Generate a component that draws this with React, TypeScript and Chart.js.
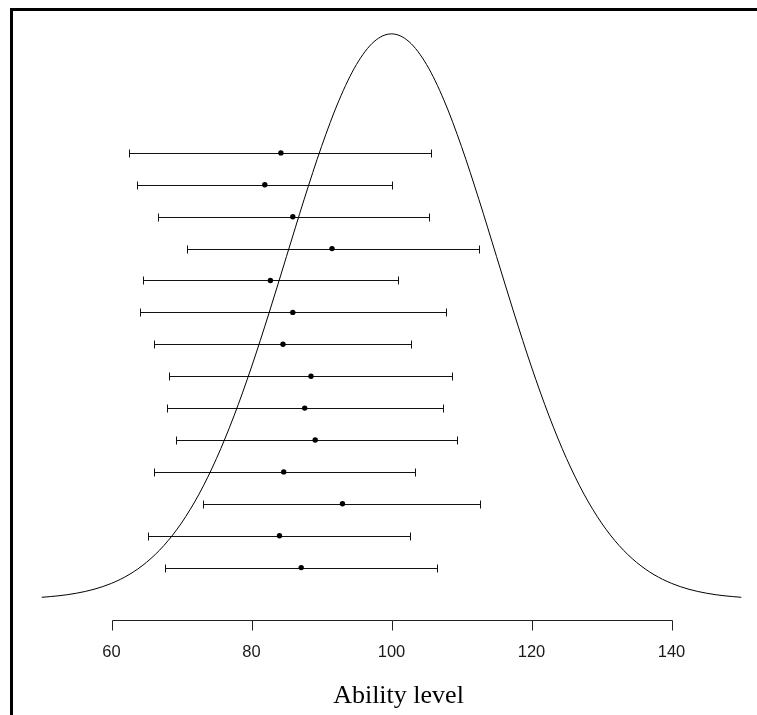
import React, { useEffect, useRef } from "react";
import { Chart, registerables } from "chart.js";

Chart.register(...registerables);

// Normal density curve (mean 100, sd 15)
const curveX = [
  50, 52.5, 55, 57.5, 60, 62.5, 65, 67.5, 70, 72.5, 75, 77.5, 80, 82.5, 85, 87.5, 90, 92.5, 95, 97.5,
  100, 102.5, 105, 107.5, 110, 112.5, 115, 117.5, 120, 122.5, 125, 127.5, 130, 132.5, 135, 137.5, 140,
  142.5, 145, 147.5, 150,
];
const curveY = [
  0.0001028, 0.0001768, 0.0002955, 0.0004804, 0.0007597, 0.0011685, 0.0017481, 0.0025433, 0.0035994,
  0.0049537, 0.0066317, 0.0086344, 0.0109339, 0.0134665, 0.0161313, 0.018794, 0.0212964, 0.0234709,
  0.0251587, 0.0262292, 0.026596, 0.0262292, 0.0251587, 0.0234709, 0.0212964, 0.018794, 0.0161313,
  0.0134665, 0.0109339, 0.0086344, 0.0066317, 0.0049537, 0.0035994, 0.0025433, 0.0017481, 0.0011685,
  0.0007597, 0.0004804, 0.0002955, 0.0001768, 0.0001028,
];

// Interval rows (top to bottom)
const rowY = [0.021, 0.0195, 0.018, 0.0165, 0.015, 0.0135, 0.012, 0.0105, 0.009, 0.0075, 0.006, 0.0045, 0.003, 0.0015];
const estimates = [84.2, 81.9, 85.9, 91.5, 82.7, 85.9, 84.5, 88.5, 87.6, 89.1, 84.6, 93.0, 84.0, 87.1];
const lowers = [62.5, 63.7, 66.6, 70.8, 64.5, 64.0, 66.1, 68.2, 67.9, 69.2, 66.1, 73.0, 65.2, 67.6];
const uppers = [105.7, 100.1, 105.3, 112.5, 100.9, 107.8, 102.8, 108.7, 107.3, 109.3, 103.3, 112.7, 102.6, 106.5];

const xTicks = [60, 80, 100, 120, 140];
const xTitle = "Ability level";

export default function App() {
  const ref = useRef<HTMLCanvasElement | null>(null);

  useEffect(() => {
    const canvas = ref.current;
    if (!canvas) return;

    const errorBars = {
      id: "errorBars",
      beforeDatasetsDraw(chart: any) {
        const ctx = chart.ctx;
        const xs = chart.scales.x;
        const ys = chart.scales.y;
        ctx.save();
        ctx.strokeStyle = "#111";
        ctx.lineWidth = 1;
        for (let i = 0; i < rowY.length; i++) {
          const y = Math.round(ys.getPixelForValue(rowY[i])) + 0.5;
          const x1 = Math.round(xs.getPixelForValue(lowers[i])) + 0.5;
          const x2 = Math.round(xs.getPixelForValue(uppers[i])) + 0.5;
          ctx.beginPath();
          ctx.moveTo(x1, y);
          ctx.lineTo(x2, y);
          ctx.moveTo(x1, y - 4);
          ctx.lineTo(x1, y + 4);
          ctx.moveTo(x2, y - 4);
          ctx.lineTo(x2, y + 4);
          ctx.stroke();
        }
        ctx.restore();
      },
      afterDraw(chart: any) {
        const ctx = chart.ctx;
        const xs = chart.scales.x;
        ctx.save();
        // frame (top and left edges visible)
        ctx.strokeStyle = "#000";
        ctx.lineWidth = 3;
        ctx.beginPath();
        ctx.moveTo(11.5, 800);
        ctx.lineTo(11.5, 9.5);
        ctx.lineTo(800, 9.5);
        ctx.stroke();

        // x axis
        const axisY = 620.5;
        const first = Math.round(xs.getPixelForValue(xTicks[0])) + 0.5;
        const last = Math.round(xs.getPixelForValue(xTicks[xTicks.length - 1])) + 0.5;
        ctx.strokeStyle = "#222";
        ctx.lineWidth = 1;
        ctx.beginPath();
        ctx.moveTo(first, axisY);
        ctx.lineTo(last, axisY);
        for (const t of xTicks) {
          const px = Math.round(xs.getPixelForValue(t)) + 0.5;
          ctx.moveTo(px, axisY);
          ctx.lineTo(px, axisY + 10);
        }
        ctx.stroke();

        ctx.fillStyle = "#1a1a1a";
        ctx.font = "16.5px 'Liberation Sans', Arial, sans-serif";
        ctx.textAlign = "center";
        ctx.textBaseline = "alphabetic";
        for (const t of xTicks) {
          const px = xs.getPixelForValue(t);
          ctx.fillText(String(t), px, 657);
        }

        ctx.fillStyle = "#000";
        ctx.font = "26px 'Liberation Serif', 'Times New Roman', serif";
        ctx.fillText(xTitle, 398.5, 703);
        ctx.restore();
      },
    };

    const chart = new Chart(canvas, {
      type: "scatter",
      data: {
        datasets: [
          {
            type: "line",
            data: curveX.map((x, i) => ({ x, y: curveY[i] })),
            borderColor: "#000",
            borderWidth: 1,
            pointRadius: 0,
            fill: false,
            cubicInterpolationMode: "monotone",
          } as any,
          {
            type: "scatter",
            data: estimates.map((x, i) => ({ x, y: rowY[i] })),
            backgroundColor: "#000",
            borderColor: "#000",
            borderWidth: 0,
            pointRadius: 2.7,
          },
        ],
      },
      options: {
        animation: false,
        responsive: false,
        devicePixelRatio: 1,
        layout: { padding: { left: 41.5, right: 15.5, top: 3.4, bottom: 115.5 } },
        scales: {
          x: { type: "linear", min: 50, max: 150, display: false },
          y: { type: "linear", min: 0, max: 0.028, display: false },
        },
        plugins: { legend: { display: false }, tooltip: { enabled: false } },
      },
      plugins: [errorBars],
    });

    return () => chart.destroy();
  }, []);

  return (
    <div style={{ position: "fixed", left: 0, top: 0, width: 757, height: 715, background: "#fff" }}>
      <canvas ref={ref} width={757} height={715} style={{ width: 757, height: 715, display: "block" }} />
    </div>
  );
}
